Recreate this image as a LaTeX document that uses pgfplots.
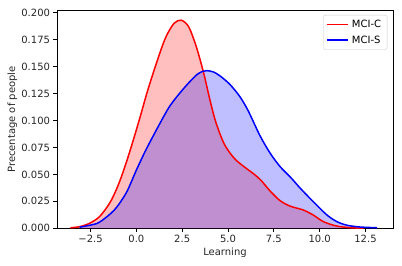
\documentclass[border=0pt]{standalone}
\usepackage{pgfplots}
\pgfplotsset{compat=1.18}
\usepackage{pgfplotstable}
\usepackage{fontspec}
\setmainfont{DejaVu Sans}

\pgfplotstableread{
x y
-3.60 0.0005
-3.10 0.0015
-2.56 0.0046
-2.00 0.0110
-1.40 0.0250
-0.90 0.0440
-0.40 0.0690
0.15 0.1000
0.62 0.1280
1.17 0.1570
1.60 0.1770
2.05 0.1900
2.45 0.1930
2.85 0.1870
3.20 0.1720
3.45 0.1580
3.70 0.1420
4.00 0.1200
4.27 0.1020
4.55 0.0880
4.80 0.0780
5.10 0.0700
5.45 0.0630
6.00 0.0555
6.40 0.0505
6.80 0.0445
7.30 0.0345
7.85 0.0255
8.40 0.0205
9.10 0.0170
9.65 0.0123
10.20 0.0062
10.90 0.0022
11.70 0.0005
12.40 0.0001
}\redtab

\pgfplotstableread{
x y
-3.10 0.0010
-2.50 0.0030
-2.00 0.0058
-1.20 0.0170
-0.55 0.0330
0.00 0.0540
0.50 0.0720
1.10 0.0915
1.70 0.1100
2.00 0.1175
2.35 0.1250
2.70 0.1320
3.00 0.1375
3.30 0.1425
3.60 0.1455
3.85 0.1462
4.20 0.1450
4.55 0.1415
5.10 0.1335
5.65 0.1220
6.10 0.1090
6.74 0.0860
7.30 0.0696
7.85 0.0570
8.40 0.0475
8.95 0.0370
9.65 0.0247
10.40 0.0123
10.95 0.0061
11.50 0.0028
12.20 0.0012
13.13 0.0005
}\bluetab

\begin{document}
\begin{tikzpicture}
\begin{axis}[
  name=ax,
  scale only axis,
  width=336bp, height=217.6bp,
  xmin=-4.33, xmax=14.0, ymin=0, ymax=0.2018,
  xtick={-2.5,0,2.5,5,7.5,10,12.5},
  xticklabels={−2.5,0.0,2.5,5.0,7.5,10.0,12.5},
  ytick={0,0.025,0.05,0.075,0.1,0.125,0.15,0.175,0.2},
  yticklabels={0.000,0.025,0.050,0.075,0.100,0.125,0.150,0.175,0.200},
  xtick pos=left, ytick pos=left,
  tick align=outside,
  major tick length=3.5bp,
  tick style={black, line width=0.8bp},
  axis line style={black, line width=0.8bp},
  font=\fontsize{10bp}{12bp}\selectfont,
  every tick label/.append style={font=\fontsize{10bp}{12bp}\selectfont, text=black!85},
  xlabel={Learning},
  ylabel={Precentage of people},
  xlabel style={at={(axis description cs:0.5,0)}, anchor=north, inner sep=0pt, yshift=-19.7bp, font=\fontsize{10bp}{12bp}\selectfont, text=black!85},
  ylabel style={at={(axis description cs:0,0.5)}, rotate=0, anchor=south, inner sep=0pt, yshift=39.5bp, font=\fontsize{10bp}{12bp}\selectfont, text=black!85},
  legend style={at={(1,1)}, anchor=north east, xshift=-5.7bp, yshift=-4.3bp,
    draw=black!20, rounded corners=2bp, fill=white, fill opacity=0.8, text opacity=1,
    font=\fontsize{10bp}{12bp}\selectfont, inner xsep=2.5bp, inner ysep=3bp, row sep=2.5bp,
    nodes={inner xsep=3.5bp}},
  legend cell align=left,
  legend image code/.code={\draw[#1] (0bp,0bp) -- (21bp,0bp);},
]
\addplot[draw=none, fill=red, fill opacity=0.25, smooth, forget plot] table {\redtab} \closedcycle;
\addplot[draw=none, fill=blue, fill opacity=0.25, smooth, forget plot] table {\bluetab} \closedcycle;
\addplot[red, line width=1.5bp, smooth] table {\redtab};
\addplot[blue, line width=1.5bp, smooth] table {\bluetab};
\legend{MCI-C, MCI-S}
\end{axis}
\pgfresetboundingbox
\path ([shift={(-57bp,-37.7bp)}]ax.south west) rectangle ([shift={(9bp,10.7bp)}]ax.north east);
\end{tikzpicture}
\end{document}
